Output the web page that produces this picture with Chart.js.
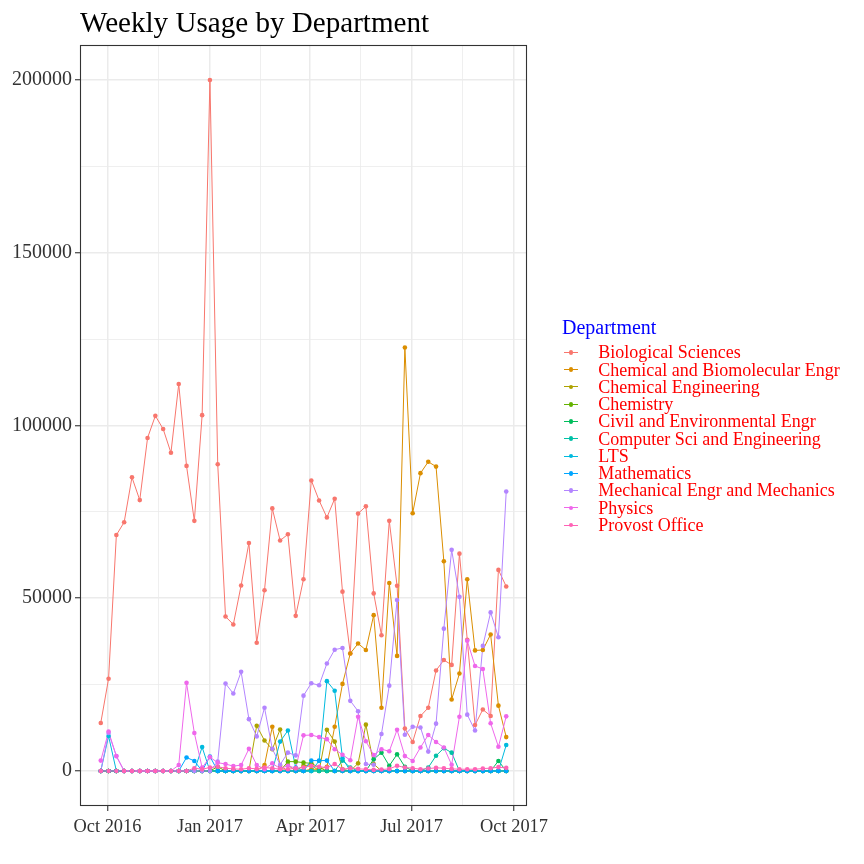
<!DOCTYPE html>
<html><head><meta charset="utf-8">
<script src="https://cdn.jsdelivr.net/npm/chart.js@4.4.0/dist/chart.umd.min.js"></script>
<style>
html,body{margin:0;padding:0;background:#fff;}
#wrap{position:relative;width:864px;height:864px;overflow:hidden;background:#fff;}
#c{position:absolute;left:0;top:0;}
.t{position:absolute;font-family:"Liberation Serif","Times New Roman",serif;white-space:nowrap;}
#title{left:80px;top:7.5px;font-size:29.1px;line-height:29px;color:#000;}
#legTitle{left:562px;top:316.5px;font-size:20px;line-height:20px;color:#0000ff;}
.lab{font-size:18px;line-height:18px;color:#ff0000;}
.kl{position:absolute;height:1px;}
.kd{position:absolute;width:4.6px;height:4.6px;border-radius:50%;}
</style></head>
<body>
<div id="wrap">
<canvas id="c" width="864" height="864"></canvas>
<div id="title" class="t">Weekly Usage by Department</div>
<div id="legTitle" class="t">Department</div>
</div>
<script>
const weeks = ["2016-09-25","2016-10-02","2016-10-09","2016-10-16","2016-10-23","2016-10-30","2016-11-06","2016-11-13","2016-11-20","2016-11-27",
"2016-12-04","2016-12-11","2016-12-18","2016-12-25","2017-01-01","2017-01-08","2017-01-15","2017-01-22","2017-01-29","2017-02-05",
"2017-02-12","2017-02-19","2017-02-26","2017-03-05","2017-03-12","2017-03-19","2017-03-26","2017-04-02","2017-04-09","2017-04-16",
"2017-04-23","2017-04-30","2017-05-07","2017-05-14","2017-05-21","2017-05-28","2017-06-04","2017-06-11","2017-06-18","2017-06-25",
"2017-07-02","2017-07-09","2017-07-16","2017-07-23","2017-07-30","2017-08-06","2017-08-13","2017-08-20","2017-08-27","2017-09-03",
"2017-09-10","2017-09-17","2017-09-24"];
const xTickDates = ["2016-10-01","2017-01-01","2017-04-01","2017-07-01","2017-10-01"];
const xTickLabels = ["Oct 2016","Jan 2017","Apr 2017","Jul 2017","Oct 2017"];
const yTicks = [0,50000,100000,150000,200000];
const departments = ["Biological Sciences","Chemical and Biomolecular Engr","Chemical Engineering","Chemistry","Civil and Environmental Engr","Computer Sci and Engineering","LTS","Mathematics","Mechanical Engr and Mechanics","Physics","Provost Office"];
const colors = ["#F8766D","#DB8E00","#AEA200","#64B200","#00BD5C","#00C1A7","#00BADE","#00A6FF","#B385FF","#EF67EB","#FF63B6"];

const biologicalSciences = [13900,26700,68300,72000,85000,78400,96400,102800,99000,92100,112000,88300,72400,103000,200000,88800,44700,42400,53700,66000,37100,52300,76000,66700,68500,44900,55500,84100,78300,73400,78800,51900,34000,74500,76600,51400,39300,72400,53600,12300,8400,15900,18300,29100,32100,30700,62900,38000,13300,17800,15900,58200,53400];
const chemBiomolecularEngr = [0,0,0,0,0,0,0,0,0,0, 0,0,0,0,0,0,0,0,0,0, 0,1700,12800,1500,0,0,0,500,500,1200, 12800,25200,34000,36900,35000,45100,18300,54400,33300,122600, 74600,86200,89500,88100,60700,20700,28200,55500,34900,35000, 39500,18900,9800];
const chemicalEngineering = [0,0,0,0,0,0,0,0,0,0, 0,0,0,0,0,0,0,0,0,0, 13100,8800,6300,12000,1700,0,1500,1800,0,11900, 8500,500,0,2200,13400,2000,0,0,0,0, 0,0,0,0,0,0,0,0,0,0, 0,0,0];
const chemistry = [0,0,0,0,0,0,0,0,0,0, 0,0,0,0,0,1200,0,0,0,0, 0,0,0,0,2700,2700,2400,2200,1000,0, 0,0,0,0,0,0,0,0,0,0, 0,0,0,0,0,0,0,0,0,0, 0,0,0];
const civilEnvEngr = [0,0,0,0,0,0,0,0,0,0, 0,0,0,0,0,0,0,0,0,0, 0,0,0,0,0,0,0,0,0,0, 0,0,0,0,0,3400,5300,1500,4800,1200, 0,0,0,0,0,0,0,0,0,0, 0,2900,0];
const compSciEngineering = [0,0,0,0,0,0,0,0,0,0, 0,0,0,0,0,0,0,0,0,0, 0,0,0,0,0,0,0,0,0,0, 0,3000,1000,0,0,0,0,0,0,0, 0,0,1000,4400,6600,5300,0,0,0,0, 0,0,0];
const lts = [0,10100,0,0,0,0,0,0,0,0, 0,0,0,6900,0,0,0,0,0,0, 0,0,0,8500,11700,1000,0,0,2900,26000, 23200,3700,0,0,0,0,0,0,0,0, 0,0,0,0,0,0,0,0,0,0, 0,0,7500];
const mathematics = [0,0,0,0,0,0,0,0,0,0, 0,3900,2900,0,4200,0,0,0,0,0, 0,0,0,0,0,0,0,3000,3000,3000, 0,0,0,0,0,0,0,0,0,0, 0,0,0,0,0,0,0,0,0,0, 0,0,0];
const mechEngrMechanics = [0,11000,4300,0,0,0,0,0,0,0, 0,0,0,0,0,2700,25300,22400,28700,15000, 10000,18300,6400,1800,5300,4500,21800,25400,24800,31100, 35100,35600,20300,17300,2000,1800,10700,24700,49500,10500, 12800,12600,5600,13700,41200,64000,50400,16300,11700,36200, 45900,38700,80900];
const physics = [3000,11400,4300,0,0,0,0,0,0,0, 1700,25500,11000,950,4000,2400,2000,1400,1700,6400, 1700,500,2200,700,1500,800,10300,10400,9800,9200, 6300,4700,3100,15700,8600,4600,6300,5700,11900,4300, 2900,6800,10400,8400,6800,1800,15700,37700,30400,29500, 13800,7000,15800];
const provostOffice = [0,0,0,0,0,0,0,0,0,0, 0,0,800,500,1000,1200,800,600,500,800, 600,1000,800,500,500,800,1000,1500,1200,1000, 2000,500,800,600,500,300,400,600,1500,1000, 800,500,700,900,800,600,500,500,500,700, 800,1100,900];

const seriesValues = [biologicalSciences,chemBiomolecularEngr,chemicalEngineering,chemistry,civilEnvEngr,compSciEngineering,lts,mathematics,mechEngrMechanics,physics,provostOffice];

function ms(s){const p=s.split('-').map(Number);return Date.UTC(p[0],p[1]-1,p[2]);}
const origin = ms(weeks[0]);
const dayOf = s => (ms(s)-origin)/86400000;
const xs = weeks.map(dayOf);
const span = xs[xs.length-1]-xs[0];
const xMin = xs[0]-0.05*span, xMax = xs[xs.length-1]+0.05*span;
const majorX = xTickDates.map(dayOf);
const xTickVals = [];
majorX.forEach((v,i)=>{ xTickVals.push({value:v,major:true,label:xTickLabels[i]}); if(i<majorX.length-1){xTickVals.push({value:(v+majorX[i+1])/2,major:false,label:''});} });
let maxV = 0; seriesValues.forEach(a=>a.forEach(v=>{if(v>maxV)maxV=v;}));
const yMin = -0.05*maxV, yMax = maxV*1.05;
const yTickVals = [];
yTicks.forEach((v,i)=>{ yTickVals.push({value:v,major:true,label:String(v)}); if(i<yTicks.length-1){yTickVals.push({value:(v+yTicks[i+1])/2,major:false,label:''});} });

const n = departments.length;
const datasets = [];
departments.forEach((name,i)=>{
  datasets.push({label:name, data: seriesValues[i].map((v,k)=>({x:xs[k],y:v})), showLine:true, borderColor:colors[i], backgroundColor:colors[i], borderWidth:1, pointRadius:0, pointHoverRadius:0, order:100+(n-1-i)});
});
departments.forEach((name,i)=>{
  datasets.push({label:name, data: seriesValues[i].map((v,k)=>({x:xs[k],y:v})), showLine:false, backgroundColor:colors[i], borderColor:colors[i], pointRadius:2.3, pointBorderWidth:0, order:(n-1-i)});
});

function findTick(arr,v){return arr.find(t=>Math.abs(t.value-v)<1e-6);}
const FAM = '"Liberation Serif","Times New Roman",serif';

const borderPlugin = {id:'panelBorder', afterDraw(chart){const a=chart.chartArea,ctx=chart.ctx;ctx.save();ctx.strokeStyle='#333333';ctx.lineWidth=1.1;ctx.strokeRect(a.left,a.top,a.right-a.left,a.bottom-a.top);ctx.restore();}};

new Chart(document.getElementById('c'), {
  type:'scatter',
  data:{datasets},
  plugins:[borderPlugin],
  options:{
    responsive:false, animation:false, devicePixelRatio:1,
    layout:{padding:{left:0,top:45.5,right:337.5,bottom:0}},
    plugins:{legend:{display:false}, title:{display:false}, tooltip:{enabled:false}},
    scales:{
      x:{type:'linear', min:xMin, max:xMax,
        afterBuildTicks:s=>{s.ticks=xTickVals.map(t=>({value:t.value}));},
        afterFit:s=>{s.height=864-805.5;},
        ticks:{autoSkip:false, maxRotation:0, minRotation:0, padding:5, color:'#333333', font:{family:FAM,size:18.4},
          callback:(v)=>{const t=findTick(xTickVals,v);return t?t.label:'';}},
        grid:{color:'#EBEBEB', lineWidth:c=>{const t=findTick(xTickVals,c.tick.value);return t&&t.major?1.5:0.8;},
          drawTicks:true, tickLength:5.5, tickWidth:1.1,
          tickColor:c=>{const t=findTick(xTickVals,c.tick.value);return t&&t.major?'#333333':'rgba(0,0,0,0)';}},
        border:{display:false}
      },
      y:{type:'linear', min:yMin, max:yMax,
        afterBuildTicks:s=>{s.ticks=yTickVals.map(t=>({value:t.value}));},
        afterFit:s=>{s.width=80.5;},
        ticks:{autoSkip:false, padding:3, color:'#333333', font:{family:FAM,size:20},
          callback:(v)=>{const t=findTick(yTickVals,v);return t?t.label:'';}},
        grid:{color:'#EBEBEB', lineWidth:c=>{const t=findTick(yTickVals,c.tick.value);return t&&t.major?1.5:0.8;},
          drawTicks:true, tickLength:5.5, tickWidth:1.1,
          tickColor:c=>{const t=findTick(yTickVals,c.tick.value);return t&&t.major?'#333333':'rgba(0,0,0,0)';}},
        border:{display:false}
      }
    }
  }
});

// legend (HTML)
const wrap = document.getElementById('wrap');
departments.forEach((name,i)=>{
  const cy = 352.4 + i*17.27;
  const l = document.createElement('div'); l.className='kl';
  l.style.left='563.5px'; l.style.width='14.5px'; l.style.top=(cy-0.5)+'px'; l.style.background=colors[i];
  const d = document.createElement('div'); d.className='kd';
  d.style.left=(570.8-2.3)+'px'; d.style.top=(cy-2.3)+'px'; d.style.background=colors[i];
  const t = document.createElement('div'); t.className='t lab';
  t.style.left='598.3px'; t.style.top=(cy+6-15.1)+'px'; t.textContent=name;
  wrap.appendChild(l); wrap.appendChild(d); wrap.appendChild(t);
});
</script>
</body></html>
